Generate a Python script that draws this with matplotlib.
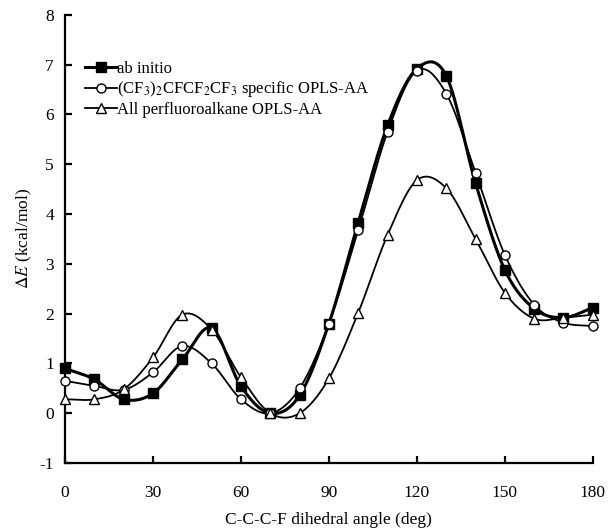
import numpy as np
import matplotlib
matplotlib.use('Agg')
import matplotlib.pyplot as plt

plt.rcParams['font.family'] = ['Liberation Serif', 'DejaVu Serif']
plt.rcParams['mathtext.fontset'] = 'stix'

angle = [0, 10, 20, 30, 40, 50, 60, 70, 80, 90, 100, 110, 120, 130, 140, 150, 160, 170, 180]
ab_initio = [0.90, 0.68, 0.28, 0.40, 1.08, 1.71, 0.54, 0.00, 0.36, 1.80, 3.83, 5.78, 6.92, 6.78, 4.62, 2.88, 2.10, 1.92, 2.12]
specific = [0.65, 0.55, 0.47, 0.82, 1.35, 1.00, 0.28, 0.00, 0.50, 1.80, 3.68, 5.65, 6.88, 6.42, 4.83, 3.18, 2.18, 1.82, 1.75]
all_pfa = [0.28, 0.28, 0.48, 1.12, 1.98, 1.68, 0.72, 0.00, 0.00, 0.70, 2.02, 3.58, 4.68, 4.52, 3.50, 2.42, 1.90, 1.92, 1.98]

labels = ['ab initio',
          r'(CF$_3$)$_2$CFCF$_2$CF$_3$ specific OPLS-AA',
          'All perfluoroalkane OPLS-AA']


def smooth(x, y, n=30):
    # Catmull-Rom style smoothing like a spreadsheet "smoothed line"
    x = np.asarray(x, float)
    y = np.asarray(y, float)
    px = np.concatenate([[2 * x[0] - x[1]], x, [2 * x[-1] - x[-2]]])
    py = np.concatenate([[2 * y[0] - y[1]], y, [2 * y[-1] - y[-2]]])
    xs, ys = [], []
    t = np.linspace(0, 1, n)
    for i in range(1, len(px) - 2):
        p0, p1, p2, p3 = [np.array([px[j], py[j]]) for j in range(i - 1, i + 3)]
        c1 = p1 + (p2 - p0) / 6
        c2 = p2 - (p3 - p1) / 6
        pts = ((1 - t) ** 3)[:, None] * p1 + (3 * (1 - t) ** 2 * t)[:, None] * c1 \
            + (3 * (1 - t) * t ** 2)[:, None] * c2 + (t ** 3)[:, None] * p2
        xs.append(pts[:, 0])
        ys.append(pts[:, 1])
    return np.concatenate(xs), np.concatenate(ys)


fig = plt.figure(figsize=(6.08, 5.31), dpi=100)
ax = fig.add_axes([0.107, 0.128, 0.868, 0.844])

styles = [
    dict(marker='s', mfc='black', lw=2.2),
    dict(marker='o', mfc='white', lw=1.3),
    dict(marker='^', mfc='white', lw=1.3),
]

for ys, lab, st in zip([ab_initio, specific, all_pfa], labels, styles):
    sx, sy = smooth(angle, ys)
    ax.plot(sx, sy, color='black', lw=st['lw'], zorder=2, clip_on=False)
    ax.plot(angle, ys, linestyle='none', marker=st['marker'], mfc=st['mfc'],
            mec='black', mew=1.0, ms=6.5, zorder=3, clip_on=False)
    ax.plot([], [], color='black', lw=st['lw'], marker=st['marker'], mfc=st['mfc'],
            mec='black', mew=1.0, ms=6.5, label=lab)

ax.set_xlim(0, 180)
ax.set_ylim(-1, 8)
ax.set_xticks(range(0, 181, 30))
ax.set_yticks(range(-1, 9))
ax.set_yticklabels([str(v) for v in range(-1, 9)])

for s in ['top', 'right']:
    ax.spines[s].set_visible(False)
for s in ['left', 'bottom']:
    ax.spines[s].set_linewidth(1.6)

ax.tick_params(direction='in', length=5, width=1.6, labelsize=12.5)
ax.tick_params(axis='x', pad=16)
ax.tick_params(axis='y', pad=8)

ax.set_xlabel('C-C-C-F dihedral angle (deg)', fontsize=12.5, labelpad=8)
ax.set_ylabel(r'$\Delta E$ (kcal/mol)', fontsize=12.5, labelpad=4)

ax.legend(loc='upper left', bbox_to_anchor=(0.025, 0.912), frameon=False,
          fontsize=12, handlelength=1.9, handletextpad=0.05, labelspacing=0.15,
          borderaxespad=0)

fig.savefig('out.png', dpi=100)
